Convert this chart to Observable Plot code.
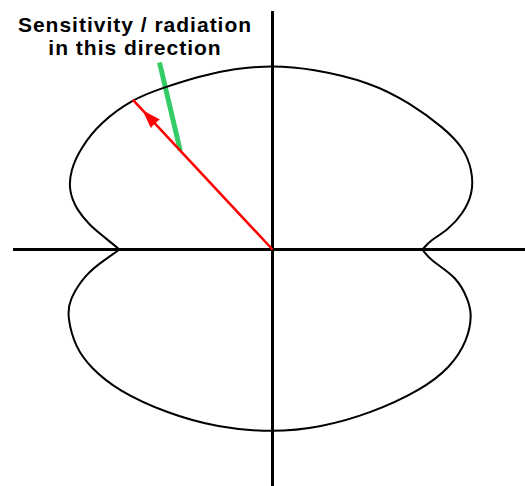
<!DOCTYPE html>
<html>
<head>
<meta charset="utf-8">
<script src="https://cdn.jsdelivr.net/npm/d3@7"></script>
<script src="https://cdn.jsdelivr.net/npm/@observablehq/plot@0.6"></script>
<style>
  html, body { margin: 0; padding: 0; background: #fff; }
  #chart svg { display: block; }
</style>
</head>
<body>
<div id="chart"></div>
<script>
// Polar pattern (angle in degrees, counter-clockwise from +x; gain in plot units)
const upperLobeAngle = [0, 3.3, 6.2, 10.7, 15.6, 21.6, 28.1, 35.5, 46.6, 59.6, 78, 90, 102, 112.5, 124.8, 132.6, 143.6, 152, 158.6, 163.9, 168.5, 172.5, 174.8, 180];
const upperLobeGain  = [150, 158, 176, 194, 208, 215, 216.5, 210, 201, 194, 185, 184, 185, 188, 196, 205, 214, 217, 217, 212, 200, 184, 173, 153];
const lowerLobeAngle = [180, 183.5, 187.3, 194, 198.4, 206.2, 213, 222.3, 237.4, 252.8, 270, 285.1, 300.9, 316.4, 326.5, 335, 341.8, 345.4, 351.5, 356, 360];
const lowerLobeGain  = [153, 168, 188, 210, 216, 220, 217, 209.5, 194.7, 186.3, 183, 184.4, 191, 204.4, 213.6, 215.2, 210, 202.5, 186.8, 158.4, 150];

// Axis extents (plot units)
const xAxisExtent = [-259, 253];
const yAxisExtent = [-237, 238];

// Arrow: direction and length (to the pattern)
const arrowAngle = [133];
const arrowGain = [205];
const arrowHeadStart = [0.84];   // fraction along the arrow where the head begins
const arrowHeadLength = [17];

// Label and leader line
const labelText = ["Sensitivity / radiation\nin this direction"];
const labelPos = [-137.5, 195];          // x, baseline y of last line
const leaderStart = [-113, 187];         // x, y of leader top
const leaderFraction = [0.66];           // fraction along the arrow where leader ends

const rad = d => d * Math.PI / 180;
const pattern = [
  ...upperLobeAngle.map((a, i) => ({lobe: "upper", angle: a, gain: upperLobeGain[i]})),
  ...lowerLobeAngle.map((a, i) => ({lobe: "lower", angle: a, gain: lowerLobeGain[i]}))
].map(d => ({...d, x: d.gain * Math.cos(rad(d.angle)), y: d.gain * Math.sin(rad(d.angle))}));

const arrows = arrowAngle.map((a, i) => ({
  angle: a,
  x1: 0, y1: 0,
  x2: arrowGain[i] * Math.cos(rad(a)),
  y2: arrowGain[i] * Math.sin(rad(a))
}));
const heads = arrows.map(d => ({
  x: arrowHeadStart[0] * d.x2,
  y: arrowHeadStart[0] * d.y2,
  rotate: 90 - d.angle
}));
const leaders = [{
  x1: leaderStart[0], y1: leaderStart[1],
  x2: leaderFraction[0] * arrows[0].x2,
  y2: leaderFraction[0] * arrows[0].y2
}];

const chart = Plot.plot({
  width: 525,
  height: 486,
  margin: 0,
  x: {domain: [-272, 253], axis: null},
  y: {domain: [-237, 249], axis: null},
  style: {background: "#fff"},
  marks: [
    Plot.ruleY([0], {x1: xAxisExtent[0], x2: xAxisExtent[1], stroke: "#000", strokeWidth: 3}),
    Plot.ruleX([0], {y1: yAxisExtent[0], y2: yAxisExtent[1], stroke: "#000", strokeWidth: 3}),
    Plot.link(leaders, {x1: "x1", y1: "y1", x2: "x2", y2: "y2", stroke: "#33cc66", strokeWidth: 5}),
    Plot.line(pattern, {x: "x", y: "y", z: "lobe", curve: "basis", stroke: "#000", strokeWidth: 2}),
    Plot.link(arrows, {x1: "x1", y1: "y1", x2: "x2", y2: "y2", stroke: "#ff0000", strokeWidth: 2.5}),
    Plot.vector(heads, {x: "x", y: "y", rotate: "rotate", length: arrowHeadLength[0], shape: "spike", anchor: "start", r: 5.5, fill: "#ff0000", stroke: "#ff0000", strokeWidth: 1}),
    Plot.text(labelText, {
      x: () => labelPos[0], y: () => labelPos[1], text: d => d,
      textAnchor: "middle", lineAnchor: "bottom", lineHeight: 1.05,
      fontFamily: "Liberation Sans, Arial, sans-serif", fontWeight: "bold", fontSize: 21,
      fill: "#000"
    })
  ]
});
chart.querySelectorAll("text").forEach(t => t.setAttribute("letter-spacing", "1"));
document.getElementById("chart").append(chart);
</script>
</body>
</html>
